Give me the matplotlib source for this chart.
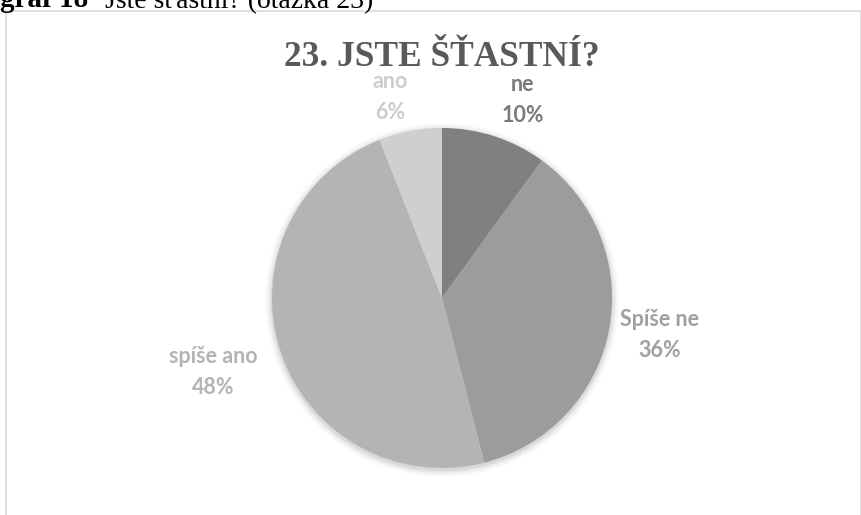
import matplotlib
matplotlib.use("Agg")
import matplotlib.pyplot as plt
from matplotlib.patches import Circle, Rectangle

# ---- data ----
categories = ["ne", "Spíše ne", "spíše ano", "ano"]
values = [10, 36, 48, 6]
pct_labels = ["10%", "36%", "48%", "6%"]
colors = ["#808080", "#9c9c9c", "#b4b4b4", "#cfcfcf"]
label_colors = ["#7a7a7a", "#a0a0a0", "#b4b4b4", "#cccccc"]
title = "23. JSTE ŠŤASTNÍ?"

# ---- layout (pixels, top-left origin) ----
W, H = 862, 515
cx, cy, r = 442, 298, 170
label_pos = [(523, 100), (660, 335), (213, 372), (390, 97)]

fig = plt.figure(figsize=(W / 100, H / 100), dpi=100)
ax = fig.add_axes([0, 0, 1, 1])
ax.set_xlim(0, W)
ax.set_ylim(0, H)
ax.set_aspect("equal")
ax.axis("off")

def Y(y):
    return H - y

# frame
ax.add_patch(Rectangle((6.5, -5), W - 7, Y(10.5) + 5, fill=False,
                       edgecolor="#d9d9d9", linewidth=1.2))

# caption partly cut off at top
ax.text(0, Y(7), "graf 18", fontsize=21, fontweight="bold",
        family="Liberation Serif", color="black", ha="left", va="baseline")
ax.text(105, Y(7), "Jste šťastní? (otázka 23)", fontsize=20,
        family="Liberation Serif", color="black", ha="left", va="baseline")

# soft shadow
for i, a in enumerate([0.05, 0.04, 0.03, 0.02, 0.012]):
    ax.add_patch(Circle((cx, Y(cy) - 2), r + 1 + i * 1.6, color="#000000",
                        alpha=a, linewidth=0, zorder=1))

ax.pie(values, colors=colors, startangle=90, counterclock=False,
       center=(cx, Y(cy)), radius=r, frame=True,
       wedgeprops=dict(linewidth=0, zorder=2))
ax.set_xlim(0, W)
ax.set_ylim(0, H)
ax.axis("off")

for cat, pct, (lx, ly), col in zip(categories, pct_labels, label_pos, label_colors):
    ax.text(lx, Y(ly), cat + "\n" + pct, ha="center", va="center",
            fontsize=15.5, fontweight="bold", family="Lato", color=col,
            linespacing=1.55, zorder=5)

ax.text(442, Y(57), title, ha="center", va="center", fontsize=25.5,
        fontweight="bold", family="Liberation Serif", color="#595959")

fig.savefig("out.png", dpi=100)
